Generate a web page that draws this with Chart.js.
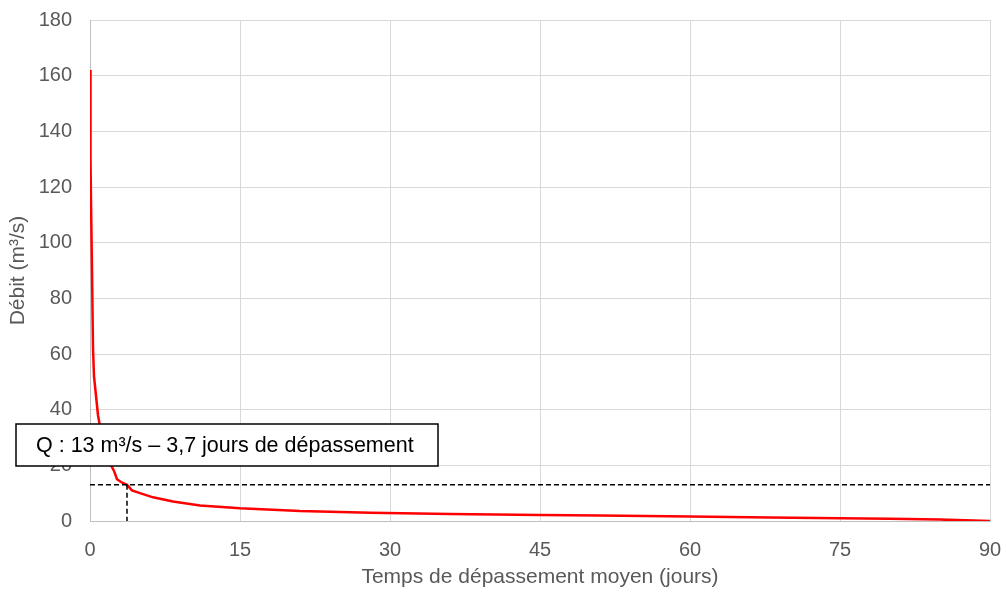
<!DOCTYPE html>
<html>
<head>
<meta charset="utf-8">
<script src="https://cdn.jsdelivr.net/npm/chart.js@4"></script>
<style>
  html, body { margin: 0; padding: 0; background: #fff; }
  #wrap { width: 1006px; height: 596px; }
</style>
</head>
<body>
<div id="wrap"><canvas id="courbe" width="1006" height="596"></canvas></div>
<script>
// courbe des débits classés
const jours = [0, 0.05, 0.1, 0.2, 0.3, 0.4, 0.6, 0.8, 1.0, 1.3, 1.7, 2.1, 2.4, 2.7, 3.1, 3.7, 4.2, 5, 6.3, 8.3, 11, 15, 21, 28, 36, 45, 51, 60, 68, 75, 80, 85, 90];
const debits = [162, 130, 115, 90, 62, 52, 45, 38, 34, 29, 24, 20, 18, 15, 14, 13, 11, 10, 8.5, 7, 5.6, 4.6, 3.6, 3.0, 2.5, 2.2, 2.0, 1.6, 1.3, 1.0, 0.8, 0.5, 0];

// débit de référence
const qRef = 13;
const jRef = 3.7;
const etiquette = 'Q : 13 m³/s – 3,7 jours de dépassement';

const gris = '#595959';
const police = 'Liberation Sans, Arial, sans-serif';

const courbe = jours.map((j, i) => ({ x: j, y: debits[i] }));

// encadré du débit de référence
const encadre = {
  id: 'encadre',
  afterDraw(chart) {
    const c = chart.ctx;
    c.save();
    c.fillStyle = '#fff';
    c.strokeStyle = '#000';
    c.lineWidth = 1.5;
    c.fillRect(16, 424, 422, 42);
    c.strokeRect(16, 424, 422, 42);
    c.fillStyle = '#000';
    c.font = '21.5px ' + police;
    c.textAlign = 'left';
    c.textBaseline = 'middle';
    c.fillText(etiquette, 36, 446);
    c.restore();
  }
};

new Chart(document.getElementById('courbe'), {
  type: 'scatter',
  data: {
    datasets: [
      {
        data: courbe,
        showLine: true,
        borderColor: '#ff0000',
        borderWidth: 2.5,
        pointRadius: 0,
        tension: 0,
        order: 2
      },
      {
        data: [{ x: 0, y: qRef }, { x: 90, y: qRef }],
        showLine: true,
        borderColor: '#000',
        borderWidth: 1.5,
        borderDash: [5, 3],
        pointRadius: 0,
        order: 1
      },
      {
        data: [{ x: jRef, y: qRef }, { x: jRef, y: 0 }],
        showLine: true,
        borderColor: '#000',
        borderWidth: 1.5,
        borderDash: [5, 3],
        pointRadius: 0,
        order: 1
      }
    ]
  },
  options: {
    responsive: false,
    animation: false,
    layout: { padding: { top: 20, right: 16, left: 0, bottom: 0 } },
    plugins: {
      legend: { display: false },
      tooltip: { enabled: false }
    },
    scales: {
      x: {
        type: 'linear',
        min: 0,
        max: 90,
        afterFit: (s) => { s.height = 75; s.paddingLeft = 0; s.paddingRight = 0; },
        ticks: { stepSize: 15, color: gris, padding: 17, font: { family: police, size: 20 } },
        grid: { color: '#d9d9d9', drawTicks: false },
        border: { color: '#bfbfbf' },
        title: {
          display: true,
          text: 'Temps de dépassement moyen (jours)',
          color: gris,
          font: { family: police, size: 21 },
          padding: { top: 0, bottom: 6 }
        }
      },
      y: {
        min: 0,
        max: 180,
        afterFit: (s) => { s.width = 90; s.paddingTop = 0; s.paddingBottom = 0; },
        ticks: { stepSize: 20, color: gris, padding: 18, font: { family: police, size: 20 } },
        grid: { color: '#d9d9d9', drawTicks: false },
        border: { color: '#bfbfbf' },
        title: {
          display: true,
          text: 'Débit (m³/s)',
          color: gris,
          font: { family: police, size: 21 },
          padding: { top: 6, bottom: 0 }
        }
      }
    }
  },
  plugins: [encadre]
});
</script>
</body>
</html>
